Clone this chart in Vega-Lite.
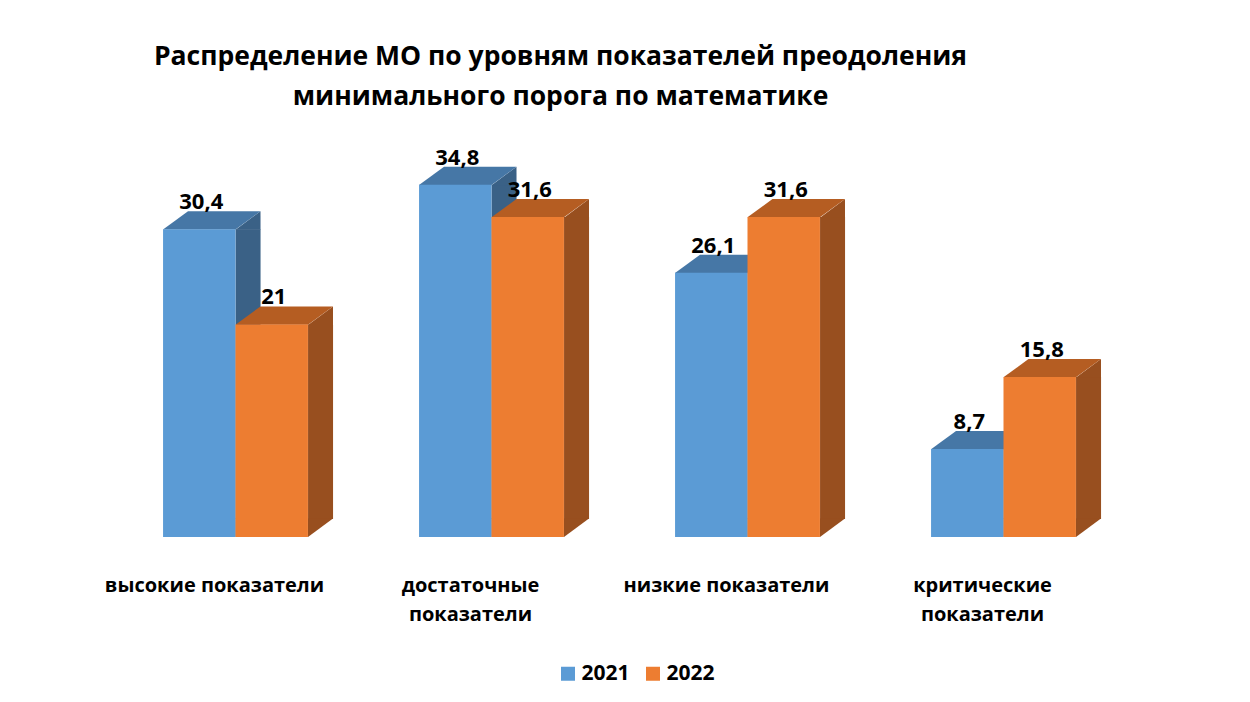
{
  "$schema": "https://vega.github.io/schema/vega-lite/v6.json",
  "autosize": {"type": "none"},
  "width": 1024,
  "height": 405,
  "padding": {"left": 107.5, "top": 132, "right": 118.5, "bottom": 165},
  "background": "white",
  "config": {
    "view": {"stroke": null},
    "font": "Open Sans",
    "locale": {"number": {"decimal": ",", "thousands": " ", "grouping": [3], "currency": ["", ""]}}
  },
  "title": {
    "text": ["Распределение МО по уровням показателей преодоления", "минимального порога по математике"],
    "anchor": "middle",
    "frame": "group",
    "dx": -59,
    "offset": 22,
    "font": "Open Sans",
    "fontSize": 26.5,
    "fontWeight": "bold",
    "color": "#000000",
    "lineHeight": 40
  },
  "data": {
    "values": [
      {"category": "высокие показатели", "year": "2021", "value": 30.4},
      {"category": "достаточные показатели", "year": "2021", "value": 34.8},
      {"category": "низкие показатели", "year": "2021", "value": 26.1},
      {"category": "критические показатели", "year": "2021", "value": 8.7},
      {"category": "высокие показатели", "year": "2022", "value": 21},
      {"category": "достаточные показатели", "year": "2022", "value": 31.6},
      {"category": "низкие показатели", "year": "2022", "value": 31.6},
      {"category": "критические показатели", "year": "2022", "value": 15.8}
    ]
  },
  "encoding": {
    "x": {
      "field": "category",
      "type": "nominal",
      "sort": ["высокие показатели", "достаточные показатели", "низкие показатели", "критические показатели"],
      "scale": {"paddingInner": 0.434, "paddingOuter": 0.217},
      "axis": {
        "title": null,
        "domain": false,
        "ticks": false,
        "labelAngle": 0,
        "labelFont": "Open Sans",
        "labelFontSize": 20,
        "labelFontWeight": "bold",
        "labelColor": "#000000",
        "labelPadding": 48,
        "labelBaseline": "middle",
        "labelLineHeight": 29,
        "labelOffset": -21,
        "labelLimit": 400,
        "labelExpr": "datum.value == 'достаточные показатели' ? ['достаточные', 'показатели'] : datum.value == 'критические показатели' ? ['критические', 'показатели'] : datum.value"
      }
    },
    "y": {"field": "value", "type": "quantitative", "scale": {"domain": [0, 40]}, "axis": null}
  },
  "resolve": {"scale": {"xOffset": "independent"}},
  "layer": [
    {
      "mark": {"type": "bar", "width": 25, "y2Offset": -18, "strokeWidth": 0},
      "encoding": {
        "xOffset": {"field": "year", "type": "nominal", "scale": {"type": "band", "domain": ["2021", "2022"], "range": [48.75, 193.75], "paddingInner": 0, "paddingOuter": 0}},
        "y2": {"datum": 0},
        "fill": {"condition": {"test": "datum.year == '2021'", "value": "#3A6186"}, "value": "#984F1F"}
      }
    },
    {
      "mark": {"type": "point", "shape": "M36.25,0.6 L61.25,-18 L61.25,0.6 Z", "size": 4, "filled": true, "opacity": 1, "strokeWidth": 0},
      "encoding": {
        "xOffset": {"field": "year", "type": "nominal", "scale": {"type": "band", "domain": ["2021", "2022"], "paddingInner": 0, "paddingOuter": 0}},
        "fill": {"condition": {"test": "datum.year == '2021'", "value": "#3A6186"}, "value": "#984F1F"}
      }
    },
    {
      "mark": {"type": "point", "shape": "M36.25,0 L36.25,-18.6 L61.25,-18.6 Z", "size": 4, "filled": true, "opacity": 1, "strokeWidth": 0},
      "encoding": {
        "xOffset": {"field": "year", "type": "nominal", "scale": {"type": "band", "domain": ["2021", "2022"], "paddingInner": 0, "paddingOuter": 0}},
        "y": {"datum": 0},
        "fill": {"condition": {"test": "datum.year == '2021'", "value": "#3A6186"}, "value": "#984F1F"}
      }
    },
    {
      "mark": {"type": "point", "shape": "M-36.25,0.3 L36.25,0.3 L61.25,-18 L-11.25,-18 Z", "size": 4, "filled": true, "opacity": 1, "strokeWidth": 0},
      "encoding": {
        "xOffset": {"field": "year", "type": "nominal", "scale": {"type": "band", "domain": ["2021", "2022"], "paddingInner": 0, "paddingOuter": 0}},
        "fill": {"condition": {"test": "datum.year == '2021'", "value": "#4677A6"}, "value": "#B55D22"}
      }
    },
    {
      "mark": {"type": "bar", "strokeWidth": 0},
      "encoding": {
        "xOffset": {"field": "year", "type": "nominal", "scale": {"type": "band", "domain": ["2021", "2022"], "paddingInner": 0, "paddingOuter": 0}},
        "color": {
          "field": "year",
          "type": "nominal",
          "scale": {"domain": ["2021", "2022"], "range": ["#5B9BD5", "#ED7D31"]},
          "legend": {
            "title": null,
            "orient": "none",
            "direction": "horizontal",
            "legendX": 450,
            "legendY": 531,
            "symbolType": "square",
            "symbolSize": 196,
            "symbolStrokeWidth": 0,
            "labelFont": "Open Sans",
            "labelFontSize": 21,
            "labelFontWeight": "bold",
            "labelColor": "#000000",
            "columnPadding": 12,
            "labelOffset": 3,
            "padding": 0
          }
        }
      }
    },
    {
      "mark": {"type": "text", "font": "Open Sans", "fontSize": 22, "fontWeight": "bold", "color": "#000000", "dy": -20, "dx": 2, "baseline": "alphabetic", "align": "center"},
      "encoding": {
        "xOffset": {"field": "year", "type": "nominal", "scale": {"type": "band", "domain": ["2021", "2022"], "paddingInner": 0, "paddingOuter": 0}},
        "text": {"field": "value", "type": "quantitative", "format": "~g"}
      }
    }
  ]
}
